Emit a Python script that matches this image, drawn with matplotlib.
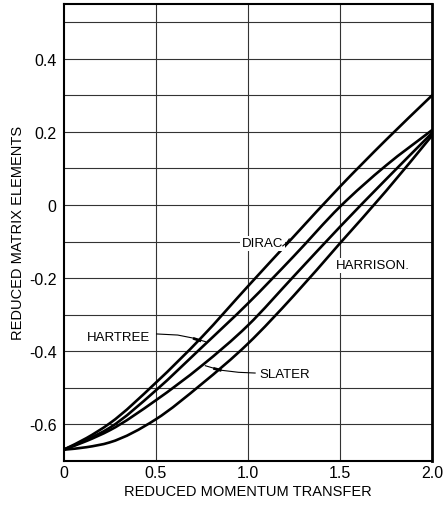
import numpy as np
import matplotlib
matplotlib.use("Agg")
import matplotlib.pyplot as plt
from matplotlib.path import Path
from matplotlib.patches import PathPatch

# reduced momentum transfer
q = [0, 0.125, 0.25, 0.5, 0.75, 1.0, 1.25, 1.5, 1.75, 2.0]

# reduced matrix elements for each wave function
dirac = [-0.67, -0.638, -0.598, -0.487, -0.362, -0.223, -0.086, 0.05, 0.178, 0.30]
hartree = [-0.67, -0.643, -0.61, -0.508, -0.39, -0.27, -0.14, -0.005, 0.108, 0.205]
slater = [-0.67, -0.646, -0.617, -0.535, -0.44, -0.33, -0.195, -0.06, 0.07, 0.197]
harrison = [-0.67, -0.663, -0.65, -0.587, -0.49, -0.38, -0.248, -0.105, 0.038, 0.19]


def smooth_path(xs, ys):
    # cubic hermite through the points, written as bezier segments
    xs = np.asarray(xs, float)
    ys = np.asarray(ys, float)
    m = np.gradient(ys, xs)
    verts = [(xs[0], ys[0])]
    codes = [Path.MOVETO]
    for i in range(len(xs) - 1):
        h = xs[i + 1] - xs[i]
        verts += [(xs[i] + h / 3, ys[i] + m[i] * h / 3),
                  (xs[i + 1] - h / 3, ys[i + 1] - m[i + 1] * h / 3),
                  (xs[i + 1], ys[i + 1])]
        codes += [Path.CURVE4] * 3
    return Path(verts, codes)


plt.rcParams['font.family'] = ['Liberation Sans', 'DejaVu Sans']

fig = plt.figure(figsize=(4.45, 5.1), dpi=100)
ax = fig.add_axes([0.1427, 0.0947, 0.8281, 0.8953])

for ys in (dirac, hartree, slater, harrison):
    ax.add_patch(PathPatch(smooth_path(q, ys), facecolor='none', edgecolor='black',
                           lw=1.9, capstyle='round', zorder=3))

ax.set_xlim(0, 2.0)
ax.set_ylim(-0.70, 0.55)

ax.set_xticks([0, 0.5, 1.0, 1.5, 2.0])
ax.set_xticklabels(['0', '0.5', '1.0', '1.5', '2.0'])
ax.set_yticks([-0.6, -0.4, -0.2, 0, 0.2, 0.4])
ax.set_yticklabels(['-0.6', '-0.4', '-0.2', '0', '0.2', '0.4'])
ax.tick_params(axis='y', length=0, labelsize=11.5, pad=5)
ax.tick_params(axis='x', length=0, labelsize=11.5, pad=3)

# grid: horizontal every 0.1, vertical every 0.5
for yv in np.arange(-0.6, 0.55, 0.1):
    ax.axhline(yv, color='#333333', lw=0.8, zorder=1)
for xv in (0.5, 1.0, 1.5):
    ax.axvline(xv, color='#333333', lw=0.8, zorder=1)

for side in ('left', 'right', 'top', 'bottom'):
    ax.spines[side].set_linewidth(1.5)
ax.spines['right'].set_linewidth(2.0)

ax.set_xlabel('REDUCED MOMENTUM TRANSFER', fontsize=10.5, labelpad=3)
ax.set_ylabel('REDUCED MATRIX ELEMENTS', fontsize=10.5, labelpad=3)

box = dict(facecolor='white', edgecolor='none', pad=1)
ax.text(1.08, -0.105, 'DIRAC', fontsize=9.5, ha='center', va='center', bbox=box, zorder=4)
ax.plot([1.19, 1.21, 1.225], [-0.112, -0.104, -0.093], color='black', lw=0.8, zorder=4)

ax.text(1.68, -0.165, 'HARRISON.', fontsize=9.5, ha='center', va='center', bbox=box, zorder=4)

ax.text(0.30, -0.36, 'HARTREE', fontsize=9.5, ha='center', va='center', bbox=box, zorder=4)
ax.plot([0.505, 0.62, 0.70, 0.77], [-0.353, -0.356, -0.364, -0.374],
        color='black', lw=0.8, zorder=4)
ax.plot([0.71, 0.74], [-0.366, -0.371], color='black', lw=2.0, zorder=4)

ax.text(1.20, -0.462, 'SLATER', fontsize=9.5, ha='center', va='center', bbox=box, zorder=4)
ax.plot([1.04, 0.95, 0.85, 0.77], [-0.46, -0.458, -0.452, -0.44],
        color='black', lw=0.8, zorder=4)
ax.plot([0.82, 0.85], [-0.448, -0.452], color='black', lw=2.0, zorder=4)

fig.savefig('out.png', dpi=100, facecolor='white')
